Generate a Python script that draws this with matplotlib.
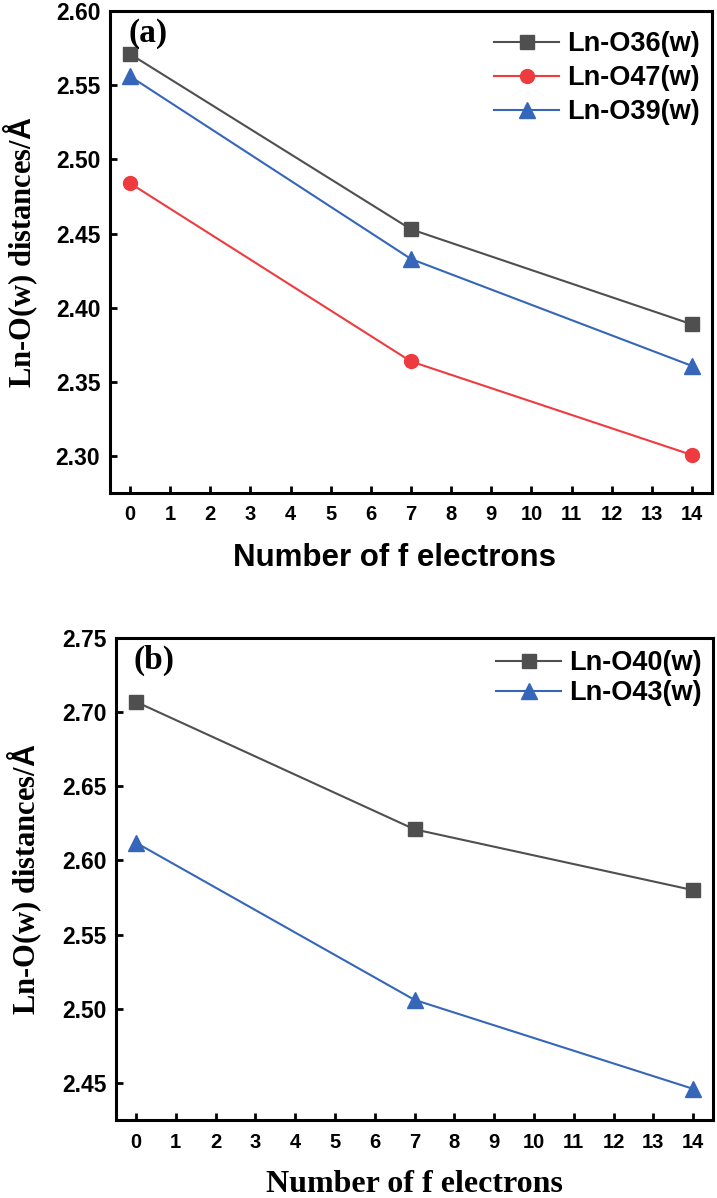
import matplotlib
matplotlib.use("Agg")
import matplotlib.pyplot as plt

# data
f_electrons = [0, 7, 14]
x_ticks = list(range(0, 15))

# panel (a)
ln_o36 = [2.571, 2.453, 2.389]
ln_o47 = [2.484, 2.364, 2.301]
ln_o39 = [2.556, 2.433, 2.361]
ticks_a = [2.30, 2.35, 2.40, 2.45, 2.50, 2.55, 2.60]

# panel (b)
ln_o40 = [2.707, 2.621, 2.580]
ln_o43 = [2.612, 2.506, 2.446]
ticks_b = [2.45, 2.50, 2.55, 2.60, 2.65, 2.70, 2.75]

GRAY = "#4f4f4f"
RED = "#ee3b3f"
BLUE = "#3566ba"

plt.rcParams["mathtext.fontset"] = "custom"
plt.rcParams["mathtext.sf"] = "Liberation Sans:bold"
plt.rcParams["mathtext.rm"] = "Liberation Serif:bold"

SANS = "Liberation Sans"
SERIF = "Liberation Serif"
ylab = r"Ln-O(w) distances/$\mathsf{Å}$"

fig = plt.figure(figsize=(7.17, 11.98), dpi=100)
W, H = 717, 1198


def make_axes(left, top, right, bottom):
    return fig.add_axes([left / W, 1 - bottom / H, (right - left) / W, (bottom - top) / H])


def style(ax, yticks, ylim):
    ax.set_xlim(-0.5, 14.5)
    ax.set_ylim(*ylim)
    ax.set_xticks(x_ticks)
    ax.set_yticks(yticks)
    ax.set_yticklabels([f"{t:.2f}" for t in yticks])
    for s in ax.spines.values():
        s.set_linewidth(2.2)
    ax.tick_params(direction="in", length=5, width=2, top=False, right=False)
    ax.tick_params(axis="x", pad=9)
    ax.tick_params(axis="y", pad=7)
    for lab in ax.get_xticklabels():
        lab.set_fontfamily(SANS)
        lab.set_fontweight("bold")
        lab.set_fontsize(14.5)
    for lab in ax.get_yticklabels():
        lab.set_fontfamily(SANS)
        lab.set_fontweight("bold")
        lab.set_fontsize(16.5)


mk = dict(lw=1.5, markersize=10)

# ---- panel (a)
ax1 = make_axes(110, 11, 712, 493)
ax1.plot(f_electrons, ln_o36, color=GRAY, marker="s", label="Ln-O36(w)", **mk)
ax1.plot(f_electrons, ln_o47, color=RED, marker="o", label="Ln-O47(w)", **mk)
ax1.plot(f_electrons, ln_o39, color=BLUE, marker="^", label="Ln-O39(w)", lw=1.5, markersize=12)
style(ax1, ticks_a, (2.2754, 2.60))
ax1.set_xlabel("Number of f electrons", fontfamily=SANS, fontweight="bold", fontsize=22.5)
ax1.xaxis.set_label_coords(0.473, -0.103)
ax1.set_ylabel(ylab, fontfamily=SERIF, fontweight="bold", fontsize=22)
ax1.yaxis.set_label_coords(-0.116, 0.5)
ax1.text(0.03, 0.985, "(a)", transform=ax1.transAxes, ha="left", va="top",
         fontfamily=SERIF, fontweight="bold", fontsize=24)
ax1.legend(loc="upper right", bbox_to_anchor=(1 - 12 / 602, 1 - 20 / 482),
           frameon=False, borderaxespad=0, borderpad=0, handlelength=2.4,
           handletextpad=0.3, labelspacing=0.3,
           prop=dict(family=SANS, weight="bold", size=19.5))

# ---- panel (b)
ax2 = make_axes(116, 638, 713, 1120)
ax2.plot(f_electrons, ln_o40, color=GRAY, marker="s", label="Ln-O40(w)", **mk)
ax2.plot(f_electrons, ln_o43, color=BLUE, marker="^", label="Ln-O43(w)", lw=1.5, markersize=12)
style(ax2, ticks_b, (2.425, 2.75))
ax2.set_xlabel("Number of f electrons", fontfamily=SERIF, fontweight="bold", fontsize=23)
ax2.xaxis.set_label_coords(0.5, -0.104)
ax2.set_ylabel(ylab, fontfamily=SERIF, fontweight="bold", fontsize=22)
ax2.yaxis.set_label_coords(-0.12, 0.5)
ax2.text(0.03, 0.985, "(b)", transform=ax2.transAxes, ha="left", va="top",
         fontfamily=SERIF, fontweight="bold", fontsize=24)
ax2.legend(loc="upper right", bbox_to_anchor=(1 - 11 / 597, 1 - 12 / 482),
           frameon=False, borderaxespad=0, borderpad=0, handlelength=2.4,
           handletextpad=0.3, labelspacing=0.15,
           prop=dict(family=SANS, weight="bold", size=19.5))

fig.savefig("out.png", dpi=100)
